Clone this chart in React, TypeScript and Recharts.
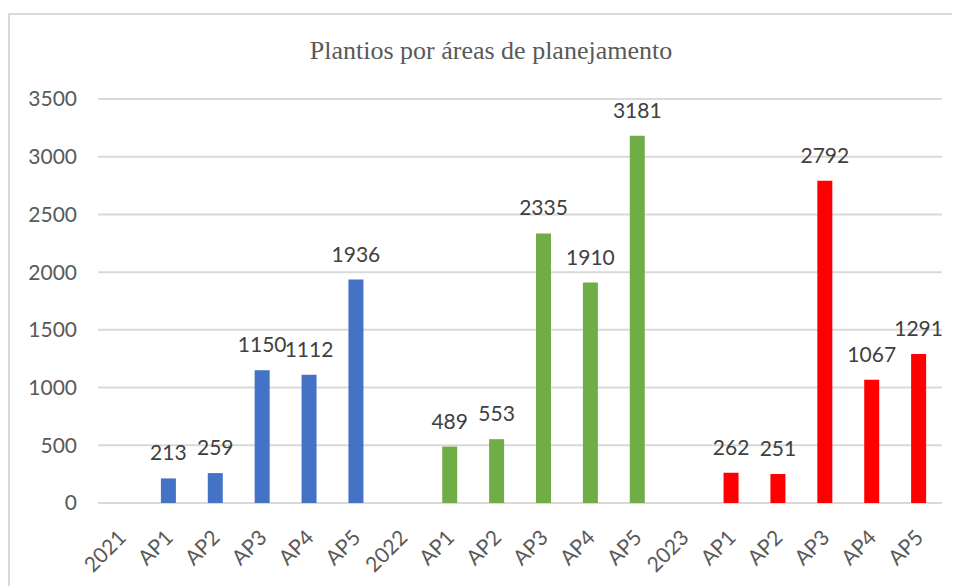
import React from 'react';
import { BarChart, Bar, XAxis, YAxis, CartesianGrid, Cell, LabelList } from 'recharts';

const categories = ['2021', 'AP1', 'AP2', 'AP3', 'AP4', 'AP5', '2022', 'AP1', 'AP2', 'AP3', 'AP4', 'AP5', '2023', 'AP1', 'AP2', 'AP3', 'AP4', 'AP5'];
const values: (number | null)[] = [null, 213, 259, 1150, 1112, 1936, null, 489, 553, 2335, 1910, 3181, null, 262, 251, 2792, 1067, 1291];
const groups = [0, 0, 0, 0, 0, 0, 1, 1, 1, 1, 1, 1, 2, 2, 2, 2, 2, 2];
const groupColors = ['#4472C4', '#70AD47', '#FF0000'];
const yTicks = [0, 500, 1000, 1500, 2000, 2500, 3000, 3500];
const title = 'Plantios por áreas de planejamento';

const data = categories.map((name, i) => ({ name, value: values[i], group: groups[i] }));

const FONT = 'Lato, "Open Sans", sans-serif';
const TEXT = '#595959';

const XTick = (props: any) => {
  const { x, y, payload } = props;
  return (
    <g transform={`translate(${x + 6},${y + 28})`}>
      <text x={0} y={0} textAnchor="end" transform="rotate(-45)" fill={TEXT} fontSize={21} fontFamily={FONT}>
        {payload.value}
      </text>
    </g>
  );
};

export default function App() {
  return (
    <div style={{ position: 'relative', width: 952, height: 578, overflow: 'hidden' }}>
      <div
        style={{
          position: 'absolute',
          left: 0,
          top: 5,
          width: 1000,
          height: 700,
          borderTop: '2px solid #d9d9d9',
          borderLeft: '2px solid #d9d9d9',
          boxSizing: 'border-box',
        }}
      />
      <div
        style={{
          position: 'absolute',
          left: 3,
          top: 28,
          width: 960,
          textAlign: 'center',
          fontFamily: '"Liberation Serif", "Times New Roman", serif',
          fontSize: 26,
          color: TEXT,
          whiteSpace: 'nowrap',
        }}
      >
        {title}
      </div>
      <div style={{ position: 'absolute', left: 0, top: 0 }}>
        <BarChart width={952} height={578} data={data} margin={{ top: 91, right: 18, bottom: 0, left: 0 }}>
          <CartesianGrid vertical={false} stroke="#d9d9d9" strokeWidth={2} />
          <XAxis dataKey="name" interval={0} tickLine={false} axisLine={false} height={83} tick={<XTick />} />
          <YAxis
            domain={[0, 3500]}
            ticks={yTicks}
            width={90}
            tickLine={false}
            axisLine={false}
            tickMargin={15}
            tick={{ fill: TEXT, fontSize: 21, fontFamily: FONT }}
          />
          <Bar dataKey="value" barSize={15} isAnimationActive={false}>
            {data.map((d, i) => (
              <Cell key={i} fill={groupColors[d.group]} />
            ))}
            <LabelList dataKey="value" position="top" offset={18} fill="#404040" fontSize={21} fontFamily={FONT} />
          </Bar>
        </BarChart>
      </div>
    </div>
  );
}
